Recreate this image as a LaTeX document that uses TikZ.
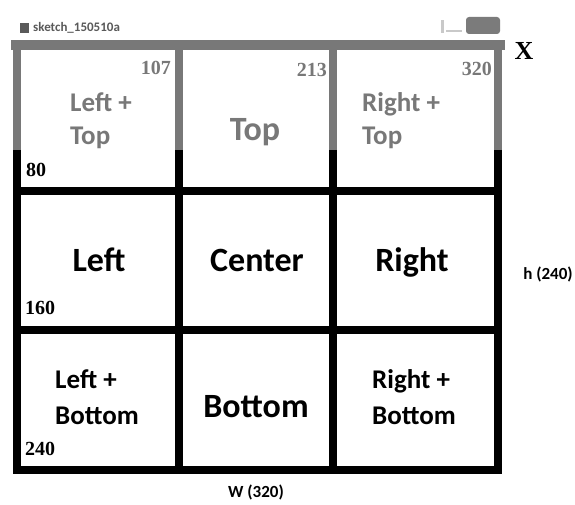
\documentclass[tikz,border=0pt]{standalone}
\usepackage{fontspec}
\setmainfont{Carlito}
\newfontfamily\numfont{Liberation Serif}
\definecolor{barGray}{HTML}{787878}
\definecolor{iconGray}{HTML}{5A5A5A}

\begin{document}
\begin{tikzpicture}[x=1pt, y=-1pt,
    bigLabel/.style={anchor=base, inner sep=0pt, font=\fontsize{34}{40}\selectfont\bfseries},
    twoLine/.style={anchor=base west, inner sep=0pt, font=\fontsize{27}{33}\selectfont\bfseries},
    colNum/.style={anchor=base east, inner sep=0pt, text=barGray, font=\fontsize{20}{22}\selectfont\numfont\bfseries},
    rowNum/.style={anchor=base west, inner sep=0pt, font=\fontsize{20}{22}\selectfont\numfont\bfseries},
    dimLabel/.style={anchor=base, inner sep=0pt, font=\fontsize{17}{19}\selectfont\bfseries},
    gridLine/.style={line width=8.5pt, line cap=rect}]
  \useasboundingbox (0,0) rectangle (575,505);
  \fill[white] (0,0) rectangle (575,505);
  % window title bar
  \fill[iconGray] (20,23) rectangle (29,33);
  \node[anchor=base west, inner sep=0pt, text=iconGray, font=\fontsize{13}{15}\selectfont\bfseries] (title) at (33,32) {sketch\_150510a};
  \fill[barGray!40] (441,20) rectangle (444,33);
  \fill[barGray!40] (446,30) rectangle (462,32);
  \fill[iconGray!80, rounded corners=3pt] (466,17) rectangle (500,34);
  % black grid lines
  \draw[gridLine] (17,150) -- (17,470);
  \draw[gridLine] (179,150) -- (179,470);
  \draw[gridLine] (333,150) -- (333,470);
  \draw[gridLine] (498,150) -- (498,470);
  \draw[gridLine] (17,191) -- (498,191);
  \draw[gridLine] (17,330) -- (498,330);
  \draw[gridLine] (17,470) -- (498,470);
  % greyed top strip
  \draw[gridLine, barGray, line cap=butt] (17,45) -- (17,150);
  \draw[gridLine, barGray, line cap=butt] (179,45) -- (179,150);
  \draw[gridLine, barGray, line cap=butt] (333,45) -- (333,150);
  \draw[gridLine, barGray, line cap=butt] (498,45) -- (498,150);
  \draw[line width=10pt, barGray] (11,45) -- (505,45);
  % column / row values
  \node[colNum] (c1) at (171,75) {107};
  \node[colNum] (c2) at (327,77) {213};
  \node[colNum] (c3) at (492,76) {320};
  \node[anchor=base, inner sep=0pt, font=\fontsize{26}{28}\selectfont\numfont\bfseries] (xl) at (524,60) {X};
  \node[rowNum] (r1) at (26,177) {80};
  \node[rowNum] (r2) at (25,314) {160};
  \node[rowNum] (r3) at (25,455) {240};
  % top row
  \node[twoLine, text=barGray] (ltA) at (70,112) {Left +};
  \node[twoLine, text=barGray] (ltB) at (70,145) {Top};
  \node[bigLabel, text=barGray] (top) at (255,141) {Top};
  \node[twoLine, text=barGray] (rtA) at (362,112) {Right +};
  \node[twoLine, text=barGray] (rtB) at (362,145) {Top};
  % middle row
  \node[bigLabel] (left) at (99,271) {Left};
  \node[bigLabel] (center) at (257,271) {Center};
  \node[bigLabel] (right) at (412,271) {Right};
  % bottom row
  \node[twoLine] (lbA) at (55,388) {Left +};
  \node[twoLine] (lbB) at (55,424) {Bottom};
  \node[bigLabel] (bottom) at (256,417) {Bottom};
  \node[twoLine] (rbA) at (372,388) {Right +};
  \node[twoLine] (rbB) at (372,424) {Bottom};
  % dimensions
  \node[dimLabel] (hdim) at (548,279) {h (240)};
  \node[dimLabel] (wdim) at (256,497) {W (320)};
\end{tikzpicture}
\end{document}
